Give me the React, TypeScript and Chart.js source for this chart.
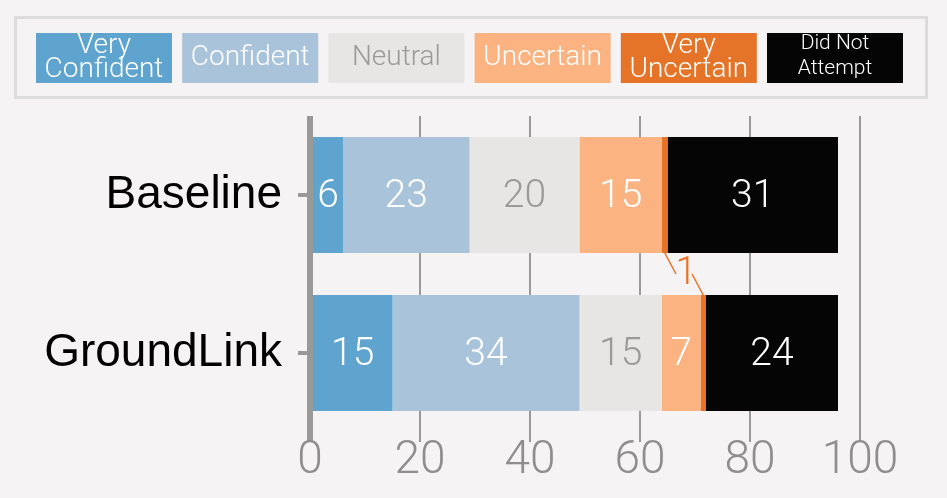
import React, { useEffect, useRef } from "react";
import { Chart, registerables } from "chart.js";

Chart.register(...registerables);

const categories = ["Baseline", "GroundLink"];
const seriesNames = ["Very Confident", "Confident", "Neutral", "Uncertain", "Very Uncertain", "Did Not Attempt"];
const veryConfident = [6, 15];
const confident = [23, 34];
const neutral = [20, 15];
const uncertain = [15, 7];
const veryUncertain = [1, 1];
const didNotAttempt = [31, 24];
const xTicks = [0, 20, 40, 60, 80, 100];
const legendLines = [["Very", "Confident"], ["Confident"], ["Neutral"], ["Uncertain"], ["Very", "Uncertain"], ["Did Not", "Attempt"]];

const colors = ["#5fa3cf", "#a9c4da", "#e7e6e4", "#fbb382", "#e57428", "#050505"];
const textColors = ["#ffffff", "#ffffff", "#9a9a9a", "#ffffff", "#ffffff", "#ffffff"];
const LIGHT = '"Roboto", "Liberation Sans", sans-serif';
const REG = '"Liberation Sans", Arial, sans-serif';
const BG = "#f5f3f4";

const legendPlugin = {
  id: "customLegend",
  afterDraw(chart: any) {
    const ctx = chart.ctx;
    ctx.save();
    ctx.strokeStyle = "#dcdcdc";
    ctx.lineWidth = 3;
    ctx.strokeRect(15.5, 17.5, 911, 80);
    const w = 136, h = 50, y0 = 33;
    seriesNames.forEach((name, i) => {
      const x0 = 36 + i * 146.2;
      ctx.fillStyle = colors[i];
      ctx.fillRect(x0, y0, w, h);
      ctx.fillStyle = textColors[i];
      ctx.textAlign = "center";
      ctx.textBaseline = "middle";
      const lines = legendLines[i];
      const cx = x0 + w / 2;
      if (lines.length === 1) {
        ctx.font = `300 28px ${LIGHT}`;
        ctx.fillText(lines[0], cx, y0 + h / 2);
      } else if (i === 5) {
        ctx.font = `300 21px ${LIGHT}`;
        ctx.fillText(lines[0], cx, y0 + 11);
        ctx.fillText(lines[1], cx, y0 + 36);
      } else {
        ctx.font = `300 28px ${LIGHT}`;
        ctx.fillText(lines[0], cx, y0 + 13);
        ctx.fillText(lines[1], cx, y0 + 37);
      }
    });
    ctx.restore();
  },
};

const labelPlugin = {
  id: "barLabels",
  afterDatasetsDraw(chart: any) {
    const ctx = chart.ctx;
    ctx.save();
    ctx.textAlign = "center";
    ctx.textBaseline = "middle";
    ctx.font = `300 39px ${LIGHT}`;
    chart.data.datasets.forEach((ds: any, di: number) => {
      if (di === 4) return;
      const meta = chart.getDatasetMeta(di);
      meta.data.forEach((bar: any, i: number) => {
        const p = bar.getProps(["x", "y", "base"], true);
        ctx.fillStyle = textColors[di];
        ctx.fillText(String(ds.data[i]), (p.x + p.base) / 2, p.y + 2);
      });
    });
    // callout for the small "Very Uncertain" segments
    const meta = chart.getDatasetMeta(4);
    const b0 = meta.data[0].getProps(["x", "y", "base", "height"], true);
    const b1 = meta.data[1].getProps(["x", "y", "base", "height"], true);
    const p0 = { x: (b0.x + b0.base) / 2, y: b0.y + b0.height / 2 };
    const p1 = { x: (b1.x + b1.base) / 2, y: b1.y - b1.height / 2 };
    const m = { x: (p0.x + p1.x) / 2, y: (p0.y + p1.y) / 2 };
    ctx.strokeStyle = colors[4];
    ctx.lineWidth = 1.5;
    ctx.beginPath();
    ctx.moveTo(p0.x, p0.y);
    ctx.lineTo(m.x - 8, m.y);
    ctx.moveTo(m.x + 8, m.y);
    ctx.lineTo(p1.x, p1.y);
    ctx.stroke();
    ctx.fillStyle = colors[4];
    ctx.font = `300 38px ${LIGHT}`;
    ctx.fillText(String(veryUncertain[0]), m.x + 2, m.y);
    ctx.restore();
  },
};

export default function App() {
  const ref = useRef<HTMLCanvasElement>(null);
  useEffect(() => {
    document.body.style.margin = "0";
    document.body.style.background = BG;
    const values = [veryConfident, confident, neutral, uncertain, veryUncertain, didNotAttempt];
    const chart = new Chart(ref.current as HTMLCanvasElement, {
      type: "bar",
      data: {
        labels: categories,
        datasets: seriesNames.map((name, i) => ({
          label: name,
          data: values[i],
          backgroundColor: colors[i],
          borderWidth: 0,
          barPercentage: 0.734,
          categoryPercentage: 1,
        })),
      },
      options: {
        indexAxis: "y",
        animation: false,
        responsive: true,
        maintainAspectRatio: false,
        layout: { padding: { top: 116, right: 87, left: 0, bottom: 0 } },
        plugins: { legend: { display: false }, tooltip: { enabled: false } },
        scales: {
          x: {
            stacked: true,
            min: 0,
            max: 100,
            afterBuildTicks: (s: any) => {
              s.ticks = xTicks.map((v) => ({ value: v }));
            },
            grid: {
              color: "#999999",
              lineWidth: (c: any) => (c.tick && c.tick.value === 0 ? 6 : 2),
              tickLength: 10,
            },
            border: { display: false },
            ticks: {
              color: "#8e8e8e",
              font: { family: LIGHT, size: 46, weight: "300" },
              padding: -8,
              maxRotation: 0,
              autoSkip: false,
            },
            afterFit: (s: any) => {
              s.height = 66;
            },
          },
          y: {
            stacked: true,
            grid: { offset: false, drawOnChartArea: false, color: "#999999", lineWidth: 4, tickLength: 12 },
            border: { display: false },
            ticks: { color: "#000000", font: { family: REG, size: 46 }, padding: 16 },
            afterFit: (s: any) => {
              s.width = 310;
            },
          },
        },
      } as any,
      plugins: [legendPlugin, labelPlugin],
    });
    return () => chart.destroy();
  }, []);
  return (
    <div style={{ width: 947, height: 498, position: "relative", background: BG }}>
      <canvas ref={ref} />
    </div>
  );
}
